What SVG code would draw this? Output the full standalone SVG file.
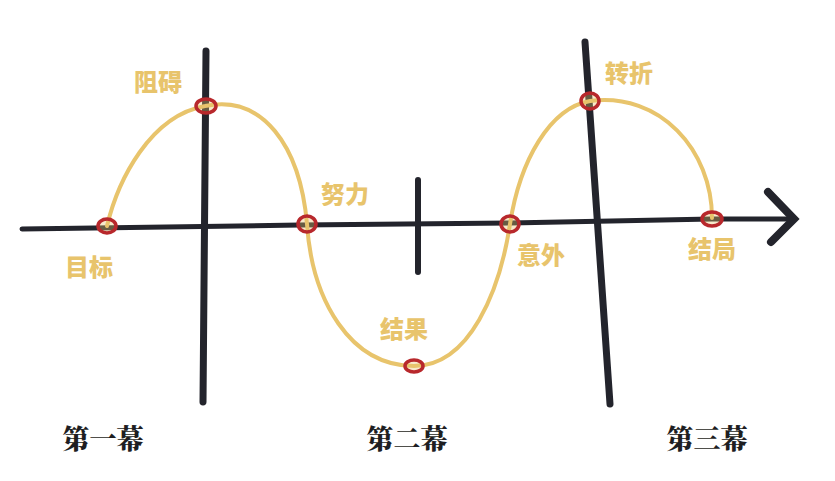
<svg xmlns="http://www.w3.org/2000/svg" width="835" height="481" viewBox="0 0 835 481">
<style>
.axis{stroke:#23242c;stroke-linecap:round;fill:none}
.curve{stroke:#e8c46c;stroke-width:4;fill:none;stroke-linecap:round}
.pt{fill:#e8c46c;fill-opacity:0.35;stroke:#b8282c;stroke-width:3.5}
.lbl{font-family:"Noto Sans CJK SC","Noto Sans",sans-serif;font-weight:900;font-size:24px;fill:#e8c46c;text-anchor:middle}
.act{font-family:"Noto Serif CJK SC","Noto Sans CJK SC",serif;font-weight:900;font-size:27px;fill:#1e1e22;text-anchor:middle}
</style>
<rect width="835" height="481" fill="#ffffff"/>
<g id="connectors">
<path class="axis" stroke-width="5" d="M22,229 L300,225 L510,223 L712,219 L792,219"/>
<path class="axis" stroke-width="8" d="M768,192 L794,219 L771,242"/>
<path class="axis" stroke-width="7" d="M206,51 L203,402"/>
<path class="axis" stroke-width="6" d="M418,180 L418,272"/>
<path class="axis" stroke-width="7" d="M585,42 L610,404"/>
<path class="curve" d="M107,226 C118,180 150,116 205,106 C262,94 300,145 307,224 C312,300 350,366 414,366 C470,366 500,290 510,224 C520,160 550,108 590,101 C660,92 712,150 712,218"/>
</g>
<g id="node-goal"><ellipse class="pt" cx="107" cy="226" rx="9" ry="7"/><text class="lbl" x="89" y="276">目标</text></g>
<g id="node-obstacle"><ellipse class="pt" cx="206" cy="106" rx="10" ry="7"/><text class="lbl" x="158" y="91">阻碍</text></g>
<g id="node-effort"><ellipse class="pt" cx="307" cy="224" rx="9" ry="8"/><text class="lbl" x="345" y="203">努力</text></g>
<g id="node-result"><ellipse class="pt" cx="414" cy="366" rx="9" ry="6"/><text class="lbl" x="404" y="338">结果</text></g>
<g id="node-accident"><ellipse class="pt" cx="510" cy="224" rx="9" ry="8"/><text class="lbl" x="541" y="264">意外</text></g>
<g id="node-turn"><ellipse class="pt" cx="590" cy="101" rx="9" ry="8"/><text class="lbl" x="629" y="82">转折</text></g>
<g id="node-ending"><ellipse class="pt" cx="712" cy="219" rx="10" ry="7"/><text class="lbl" x="712" y="258">结局</text></g>
<g id="act1"><text class="act" x="103" y="449">第一幕</text></g>
<g id="act2"><text class="act" x="407" y="449">第二幕</text></g>
<g id="act3"><text class="act" x="707" y="449">第三幕</text></g>
</svg>
